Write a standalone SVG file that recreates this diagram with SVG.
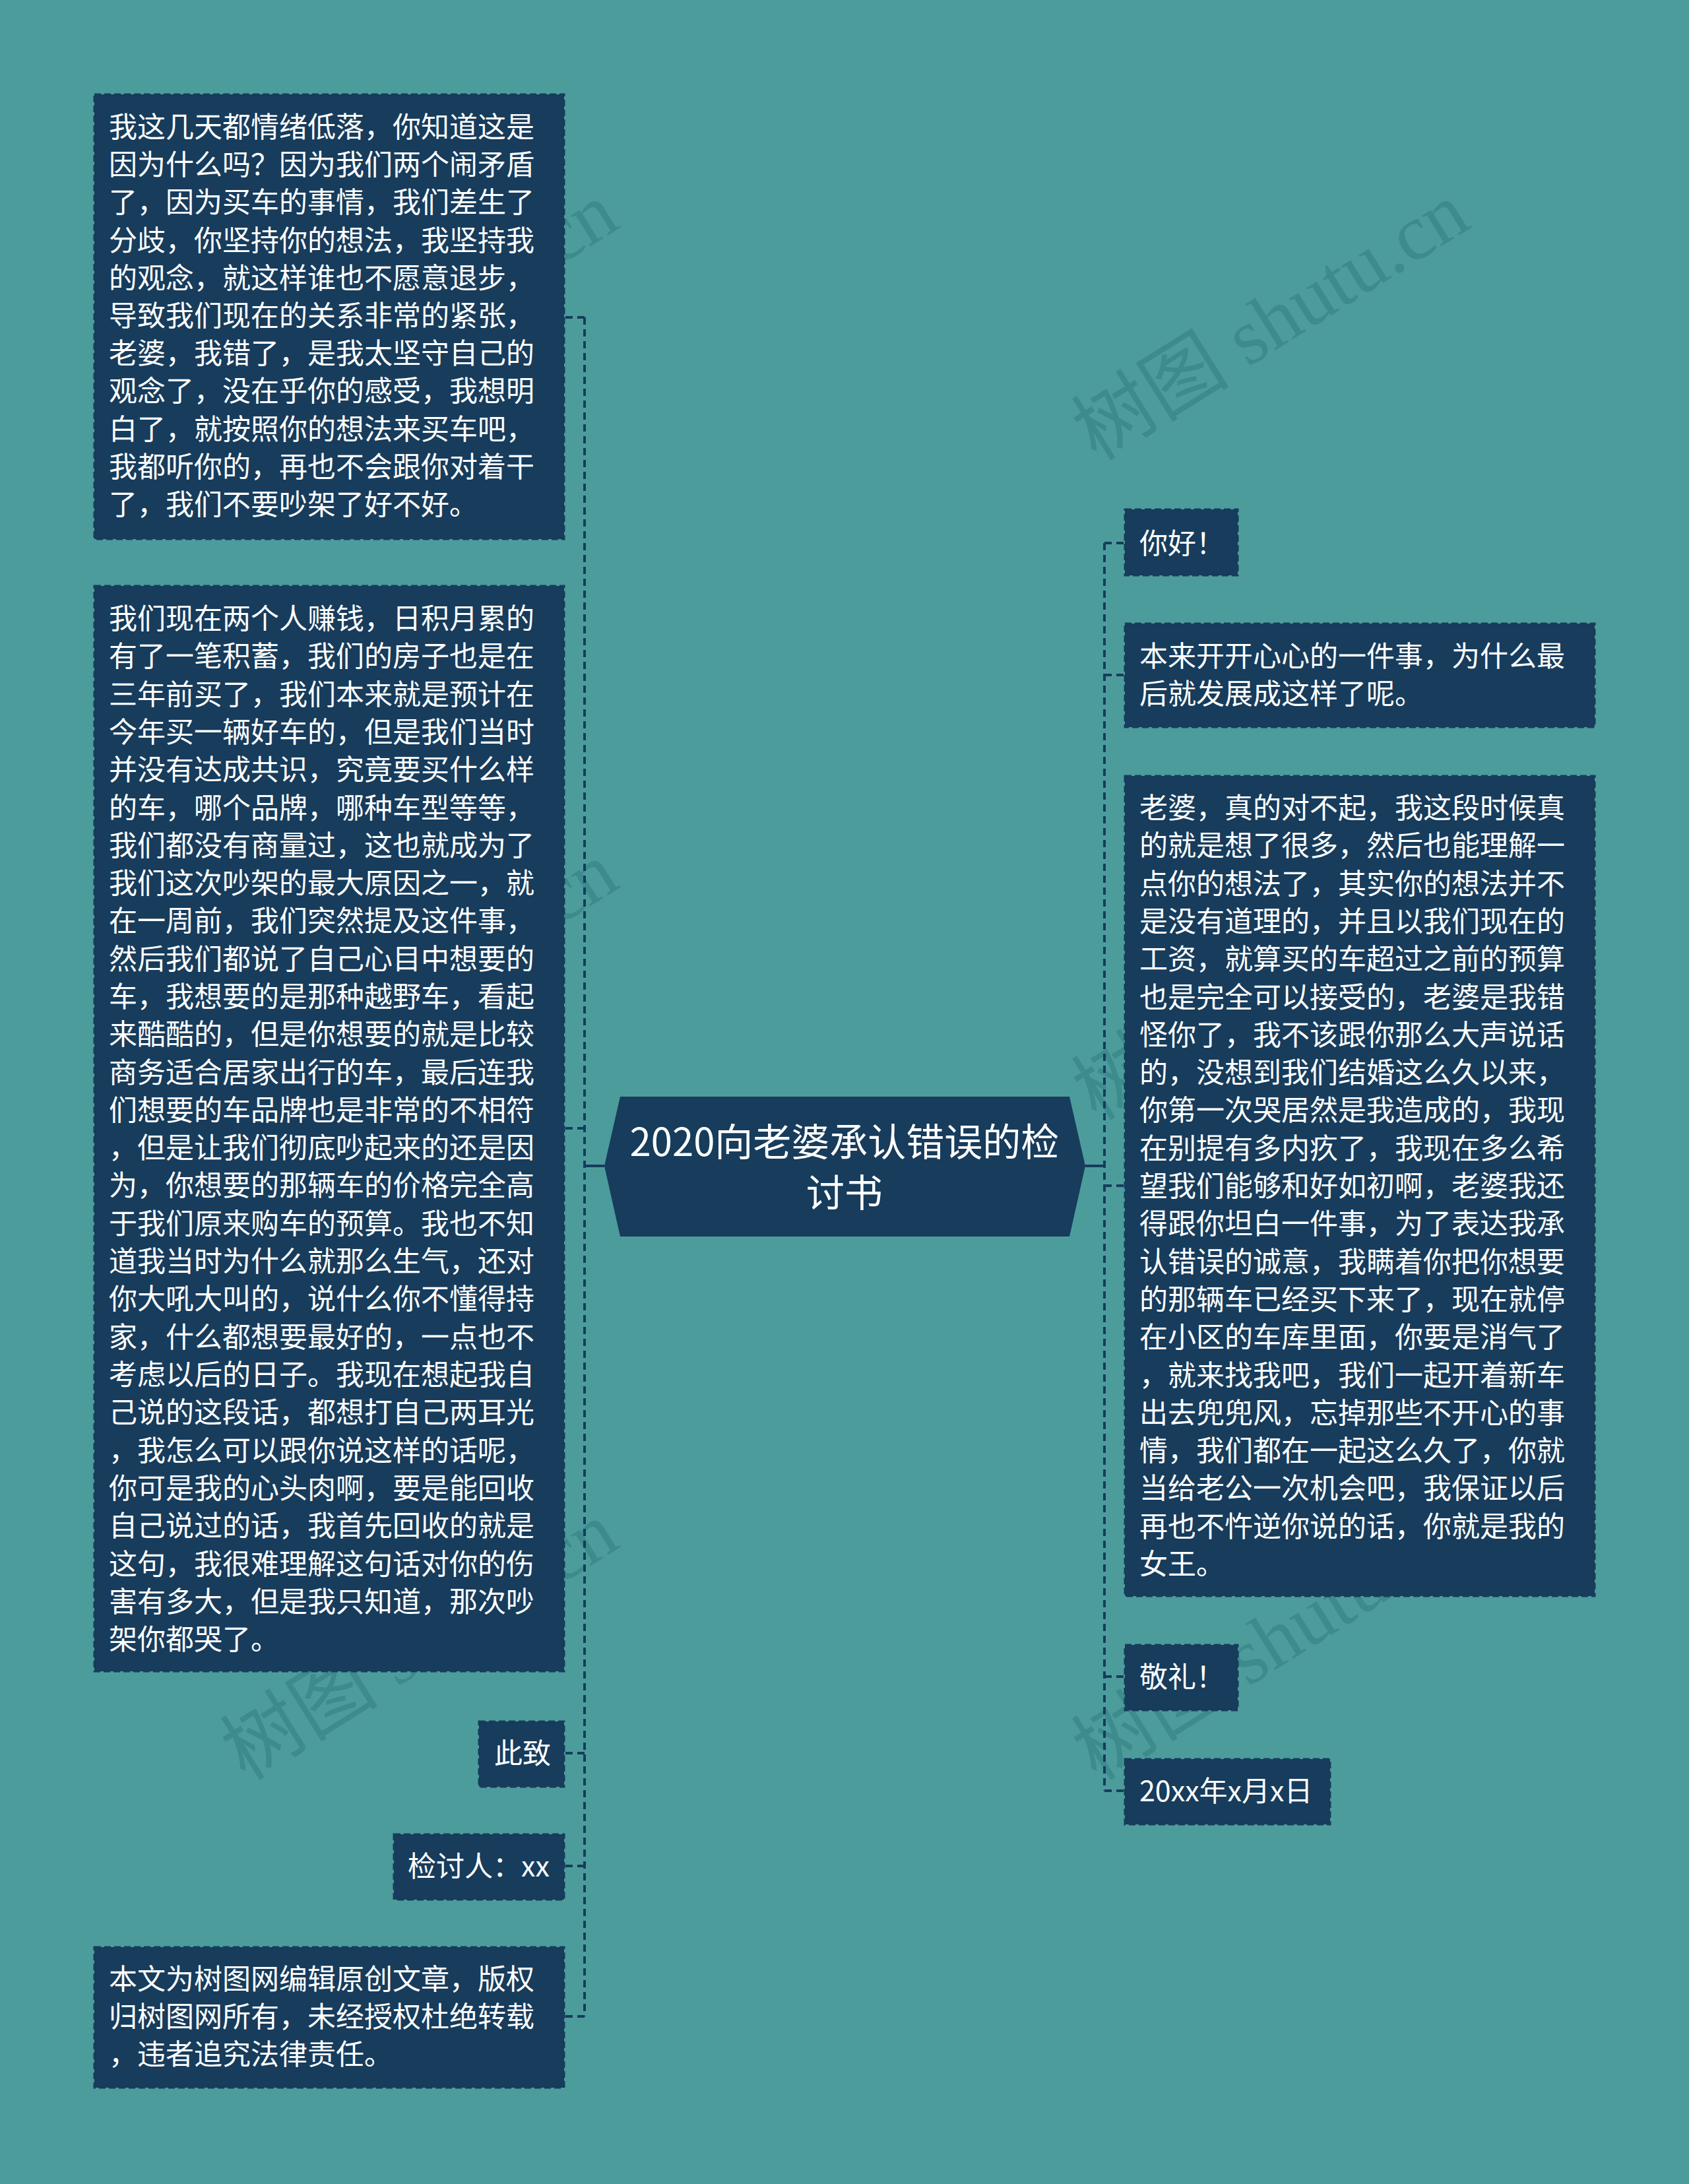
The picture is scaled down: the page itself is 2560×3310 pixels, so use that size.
<svg xmlns="http://www.w3.org/2000/svg" width="2560" height="3310" viewBox="0 0 2560 3310">
<style>
.bg{fill:#4d9c9c}
.node{fill:#173c5c;stroke:#173c5c;stroke-width:3;stroke-dasharray:10 5}
.root{fill:#173c5c}
.t{font-family:"Noto Sans CJK SC","Noto Sans",sans-serif;font-size:43px;fill:#ffffff}
.title{font-family:"Noto Sans CJK SC","Noto Sans",sans-serif;font-size:58px;fill:#ffffff;text-anchor:middle}
.wm{font-family:"Liberation Serif","Noto Sans CJK SC",serif;font-size:120px;fill:#3d8b8d}
.dash{fill:none;stroke:#173c5c;stroke-width:4;stroke-dasharray:11 7}
.solid{fill:none;stroke:#173c5c;stroke-width:4}
</style>
<rect class="bg" x="0" y="0" width="2560" height="3310"/>
<g id="watermarks">
<text class="wm" x="372" y="700" transform="rotate(-32 372 700)">树图 shutu.cn</text>
<text class="wm" x="1662" y="700" transform="rotate(-32 1662 700)">树图 shutu.cn</text>
<text class="wm" x="372" y="1700" transform="rotate(-32 372 1700)">树图 shutu.cn</text>
<text class="wm" x="1662" y="1700" transform="rotate(-32 1662 1700)">树图 shutu.cn</text>
<text class="wm" x="372" y="2700" transform="rotate(-32 372 2700)">树图 shutu.cn</text>
<text class="wm" x="1662" y="2700" transform="rotate(-32 1662 2700)">树图 shutu.cn</text>
</g>
<g id="connectors">
<path class="solid" d="M916 1767 H886"/>
<path class="dash" d="M886 481 V3056"/>
<path class="dash" d="M886 481 H855"/>
<path class="dash" d="M886 1710 H855"/>
<path class="dash" d="M886 2657 H855"/>
<path class="dash" d="M886 2828 H855"/>
<path class="dash" d="M886 3056 H855"/>
<path class="solid" d="M1645 1767 H1674"/>
<path class="dash" d="M1674 823 V2714"/>
<path class="dash" d="M1674 823 H1705"/>
<path class="dash" d="M1674 1023 H1705"/>
<path class="dash" d="M1674 1797 H1705"/>
<path class="dash" d="M1674 2541 H1705"/>
<path class="dash" d="M1674 2714 H1705"/>
</g>
<g id="root">
<polygon class="root" points="916,1767 940,1662 1621,1662 1645,1767 1621,1874 940,1874"/>
<text class="title" x="1280" y="1752">2020向老婆承认错误的检</text>
<text class="title" x="1280" y="1829">讨书</text>
</g>
<g id="node-l1">
<rect class="node" x="143" y="143" width="712" height="674"/>
<text class="t" x="165" y="208">
<tspan x="165" dy="0">我这几天都情绪低落，你知道这是</tspan>
<tspan x="165" dy="57.2">因为什么吗？因为我们两个闹矛盾</tspan>
<tspan x="165" dy="57.2">了，因为买车的事情，我们差生了</tspan>
<tspan x="165" dy="57.2">分歧，你坚持你的想法，我坚持我</tspan>
<tspan x="165" dy="57.2">的观念，就这样谁也不愿意退步，</tspan>
<tspan x="165" dy="57.2">导致我们现在的关系非常的紧张，</tspan>
<tspan x="165" dy="57.2">老婆，我错了，是我太坚守自己的</tspan>
<tspan x="165" dy="57.2">观念了，没在乎你的感受，我想明</tspan>
<tspan x="165" dy="57.2">白了，就按照你的想法来买车吧，</tspan>
<tspan x="165" dy="57.2">我都听你的，再也不会跟你对着干</tspan>
<tspan x="165" dy="57.2">了，我们不要吵架了好不好。</tspan>
</text>
</g>
<g id="node-l2">
<rect class="node" x="143" y="888" width="712" height="1645"/>
<text class="t" x="165" y="953">
<tspan x="165" dy="0">我们现在两个人赚钱，日积月累的</tspan>
<tspan x="165" dy="57.3">有了一笔积蓄，我们的房子也是在</tspan>
<tspan x="165" dy="57.3">三年前买了，我们本来就是预计在</tspan>
<tspan x="165" dy="57.3">今年买一辆好车的，但是我们当时</tspan>
<tspan x="165" dy="57.3">并没有达成共识，究竟要买什么样</tspan>
<tspan x="165" dy="57.3">的车，哪个品牌，哪种车型等等，</tspan>
<tspan x="165" dy="57.3">我们都没有商量过，这也就成为了</tspan>
<tspan x="165" dy="57.3">我们这次吵架的最大原因之一，就</tspan>
<tspan x="165" dy="57.3">在一周前，我们突然提及这件事，</tspan>
<tspan x="165" dy="57.3">然后我们都说了自己心目中想要的</tspan>
<tspan x="165" dy="57.3">车，我想要的是那种越野车，看起</tspan>
<tspan x="165" dy="57.3">来酷酷的，但是你想要的就是比较</tspan>
<tspan x="165" dy="57.3">商务适合居家出行的车，最后连我</tspan>
<tspan x="165" dy="57.3">们想要的车品牌也是非常的不相符</tspan>
<tspan x="165" dy="57.3">，但是让我们彻底吵起来的还是因</tspan>
<tspan x="165" dy="57.3">为，你想要的那辆车的价格完全高</tspan>
<tspan x="165" dy="57.3">于我们原来购车的预算。我也不知</tspan>
<tspan x="165" dy="57.3">道我当时为什么就那么生气，还对</tspan>
<tspan x="165" dy="57.3">你大吼大叫的，说什么你不懂得持</tspan>
<tspan x="165" dy="57.3">家，什么都想要最好的，一点也不</tspan>
<tspan x="165" dy="57.3">考虑以后的日子。我现在想起我自</tspan>
<tspan x="165" dy="57.3">己说的这段话，都想打自己两耳光</tspan>
<tspan x="165" dy="57.3">，我怎么可以跟你说这样的话呢，</tspan>
<tspan x="165" dy="57.3">你可是我的心头肉啊，要是能回收</tspan>
<tspan x="165" dy="57.3">自己说过的话，我首先回收的就是</tspan>
<tspan x="165" dy="57.3">这句，我很难理解这句话对你的伤</tspan>
<tspan x="165" dy="57.3">害有多大，但是我只知道，那次吵</tspan>
<tspan x="165" dy="57.3">架你都哭了。</tspan>
</text>
</g>
<g id="node-l3">
<rect class="node" x="726" y="2609" width="129" height="99"/>
<text class="t" x="749" y="2673">此致</text>
</g>
<g id="node-l4">
<rect class="node" x="597" y="2780" width="258" height="99"/>
<text class="t" x="618" y="2844">检讨人：xx</text>
</g>
<g id="node-l5">
<rect class="node" x="143" y="2951" width="712" height="213"/>
<text class="t" x="165" y="3015">
<tspan x="165" dy="0">本文为树图网编辑原创文章，版权</tspan>
<tspan x="165" dy="57.2">归树图网所有，未经授权杜绝转载</tspan>
<tspan x="165" dy="57.2">，违者追究法律责任。</tspan>
</text>
</g>
<g id="node-r1">
<rect class="node" x="1705" y="772" width="171" height="100"/>
<text class="t" x="1727" y="839">你好！</text>
</g>
<g id="node-r2">
<rect class="node" x="1705" y="945" width="712" height="157"/>
<text class="t" x="1727" y="1010">
<tspan x="1727" dy="0">本来开开心心的一件事，为什么最</tspan>
<tspan x="1727" dy="57.2">后就发展成这样了呢。</tspan>
</text>
</g>
<g id="node-r3">
<rect class="node" x="1705" y="1176" width="712" height="1243"/>
<text class="t" x="1727" y="1240">
<tspan x="1727" dy="0">老婆，真的对不起，我这段时候真</tspan>
<tspan x="1727" dy="57.3">的就是想了很多，然后也能理解一</tspan>
<tspan x="1727" dy="57.3">点你的想法了，其实你的想法并不</tspan>
<tspan x="1727" dy="57.3">是没有道理的，并且以我们现在的</tspan>
<tspan x="1727" dy="57.3">工资，就算买的车超过之前的预算</tspan>
<tspan x="1727" dy="57.3">也是完全可以接受的，老婆是我错</tspan>
<tspan x="1727" dy="57.3">怪你了，我不该跟你那么大声说话</tspan>
<tspan x="1727" dy="57.3">的，没想到我们结婚这么久以来，</tspan>
<tspan x="1727" dy="57.3">你第一次哭居然是我造成的，我现</tspan>
<tspan x="1727" dy="57.3">在别提有多内疚了，我现在多么希</tspan>
<tspan x="1727" dy="57.3">望我们能够和好如初啊，老婆我还</tspan>
<tspan x="1727" dy="57.3">得跟你坦白一件事，为了表达我承</tspan>
<tspan x="1727" dy="57.3">认错误的诚意，我瞒着你把你想要</tspan>
<tspan x="1727" dy="57.3">的那辆车已经买下来了，现在就停</tspan>
<tspan x="1727" dy="57.3">在小区的车库里面，你要是消气了</tspan>
<tspan x="1727" dy="57.3">，就来找我吧，我们一起开着新车</tspan>
<tspan x="1727" dy="57.3">出去兜兜风，忘掉那些不开心的事</tspan>
<tspan x="1727" dy="57.3">情，我们都在一起这么久了，你就</tspan>
<tspan x="1727" dy="57.3">当给老公一次机会吧，我保证以后</tspan>
<tspan x="1727" dy="57.3">再也不忤逆你说的话，你就是我的</tspan>
<tspan x="1727" dy="57.3">女王。</tspan>
</text>
</g>
<g id="node-r4">
<rect class="node" x="1705" y="2493" width="171" height="99"/>
<text class="t" x="1727" y="2557">敬礼！</text>
</g>
<g id="node-r5">
<rect class="node" x="1705" y="2666" width="311" height="99"/>
<text class="t" x="1727" y="2730">20xx年x月x日</text>
</g>
</svg>
